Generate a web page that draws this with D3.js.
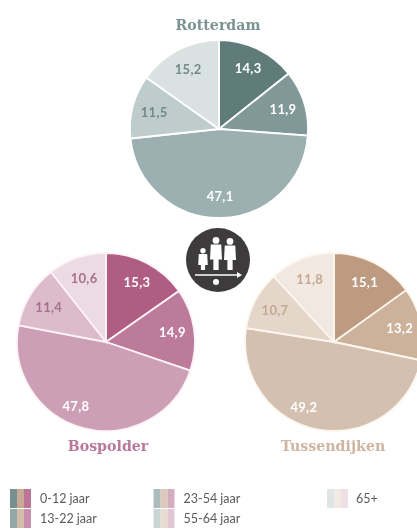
<!DOCTYPE html>
<html>
<head>
<meta charset="utf-8">
<script src="https://cdn.jsdelivr.net/npm/d3@7"></script>
<style>
  html, body { margin: 0; padding: 0; background: #fff; overflow: hidden; }
  svg { display: block; filter: blur(0.6px); }
</style>
</head>
<body>
<div id="chart"></div>
<script>
const ageGroups = ["0-12 jaar", "13-22 jaar", "23-54 jaar", "55-64 jaar", "65+"];

const rotterdamValues = [14.3, 11.9, 47.1, 11.5, 15.2];
const bospolderValues = [15.3, 14.9, 47.8, 11.4, 10.6];
const tussendijkenValues = [15.1, 13.2, 49.2, 10.7, 11.8];

const rotterdamColors = ["#5f7c7b", "#819898", "#9cb0b1", "#bfcccc", "#d9e1e1"];
const bospolderColors = ["#b05d84", "#bd7b9c", "#cc9fb6", "#dcbccb", "#ecdbe2"];
const tussendijkenColors = ["#bd9b80", "#ccb19b", "#d4c0b0", "#e4d7ca", "#f0e8e1"];

const width = 417, height = 529;
const radius = 89;
const format = d3.format(".1f");

const svg = d3.select("#chart")
  .append("svg")
  .attr("width", width)
  .attr("height", height);

const pies = [
  { name: "Rotterdam", values: rotterdamValues, colors: rotterdamColors, x: 219, y: 129, titleX: 218, titleY: 30, text: "#7d9393", dark: "#74898a", edge: "#fff", shift: 0 },
  { name: "Bospolder", values: bospolderValues, colors: bospolderColors, x: 106, y: 342, titleX: 108, titleY: 451, text: "#b9789a", dark: "#a8708c", edge: "#fdf3f7", shift: -13 },
  { name: "Tussendijken", values: tussendijkenValues, colors: tussendijkenColors, x: 334, y: 342, titleX: 333, titleY: 451, text: "#cdb5a2", dark: "#c4a892", edge: "#fdf6ee", shift: -18 }
];

const pie = d3.pie().sort(null);
const arc = d3.arc().innerRadius(0).outerRadius(radius);
const labelArc = d3.arc().innerRadius(67).outerRadius(67);

pies.forEach((p) => {
  const g = svg.append("g").attr("transform", `translate(${p.x},${p.y})`);
  const slices = pie(p.values);

  g.selectAll("path")
    .data(slices)
    .enter()
    .append("path")
    .attr("d", arc)
    .attr("fill", (d, i) => p.colors[i])
    .attr("stroke", p.edge)
    .attr("stroke-width", 1.8);

  g.selectAll("text")
    .data(slices)
    .enter()
    .append("text")
    .attr("x", (d, i) => labelArc.centroid(d)[0] + (i === 2 ? p.shift : 0))
    .attr("y", (d) => labelArc.centroid(d)[1])
    .attr("dy", ".35em")
    .attr("text-anchor", "middle")
    .attr("fill", (d, i) => (i < 3 ? "#fff" : p.dark))
    .style("font-family", "Lato, sans-serif")
    .style("font-weight", "700")
    .style("font-size", "13px")
    .style("letter-spacing", "0.3px")
    .text((d) => format(d.value).replace(".", ","));

  svg.append("text")
    .attr("x", p.titleX)
    .attr("y", p.titleY)
    .attr("text-anchor", "middle")
    .attr("fill", p.text)
    .style("font-family", "'DejaVu Serif', serif")
    .style("font-weight", "700")
    .style("font-size", "14.2px")
    .text(p.name);
});

// family icon in the middle
const icon = svg.append("g").attr("transform", "translate(218,260)");
icon.append("circle").attr("r", 32).attr("fill", "#3d3b3c");

function person(x, top, bottom, w) {
  const head = w * 0.45;
  icon.append("circle").attr("cx", x).attr("cy", top + head).attr("r", head).attr("fill", "#fff");
  icon.append("path")
    .attr("d", d3.line()([
      [x - w * 0.7, top + head * 2.2],
      [x + w * 0.7, top + head * 2.2],
      [x + w * 0.8, (top + bottom) / 2 + 6],
      [x + w * 0.35, (top + bottom) / 2 + 6],
      [x + w * 0.35, bottom],
      [x - w * 0.35, bottom],
      [x - w * 0.35, (top + bottom) / 2 + 6],
      [x - w * 0.8, (top + bottom) / 2 + 6]
    ]) + "Z")
    .attr("fill", "#fff");
}
person(-15, -12, 10, 6);
person(-2, -23, 10, 7.5);
person(12, -22, 10, 7.5);

icon.append("line").attr("x1", -23).attr("x2", 22).attr("y1", 15).attr("y2", 15)
  .attr("stroke", "#fff").attr("stroke-width", 1.6);
icon.append("path").attr("d", "M19,12L24,15L19,18Z").attr("fill", "#fff");
icon.append("circle").attr("cx", -2).attr("cy", 22).attr("r", 3).attr("fill", "#fff");

// legend: one stripe per area for each age group
const legendX = [10, 10, 153.5, 153.5, 327];
const legendY = [489, 509, 489, 509, 489];
const stripeScale = d3.scaleBand().domain([0, 1, 2]).range([0, 21]);
const stripeColors = [rotterdamColors, tussendijkenColors, bospolderColors];

const legend = svg.selectAll(".legend")
  .data(ageGroups)
  .enter()
  .append("g")
  .attr("class", "legend")
  .attr("transform", (d, i) => `translate(${legendX[i]},${legendY[i]})`);

stripeColors.forEach((colors, s) => {
  legend.append("rect")
    .attr("x", stripeScale(s))
    .attr("width", stripeScale.bandwidth())
    .attr("height", 19)
    .attr("fill", (d, i) => colors[i])
    .attr("opacity", 0.85);
});

legend.append("text")
  .attr("x", (d, i) => (i === 4 ? 29 : 30))
  .attr("y", 10)
  .attr("dy", ".35em")
  .attr("fill", "#5b5b5b")
  .style("font-family", "Lato, sans-serif")
  .style("font-size", "12.5px")
  .text((d) => d);
</script>
</body>
</html>
